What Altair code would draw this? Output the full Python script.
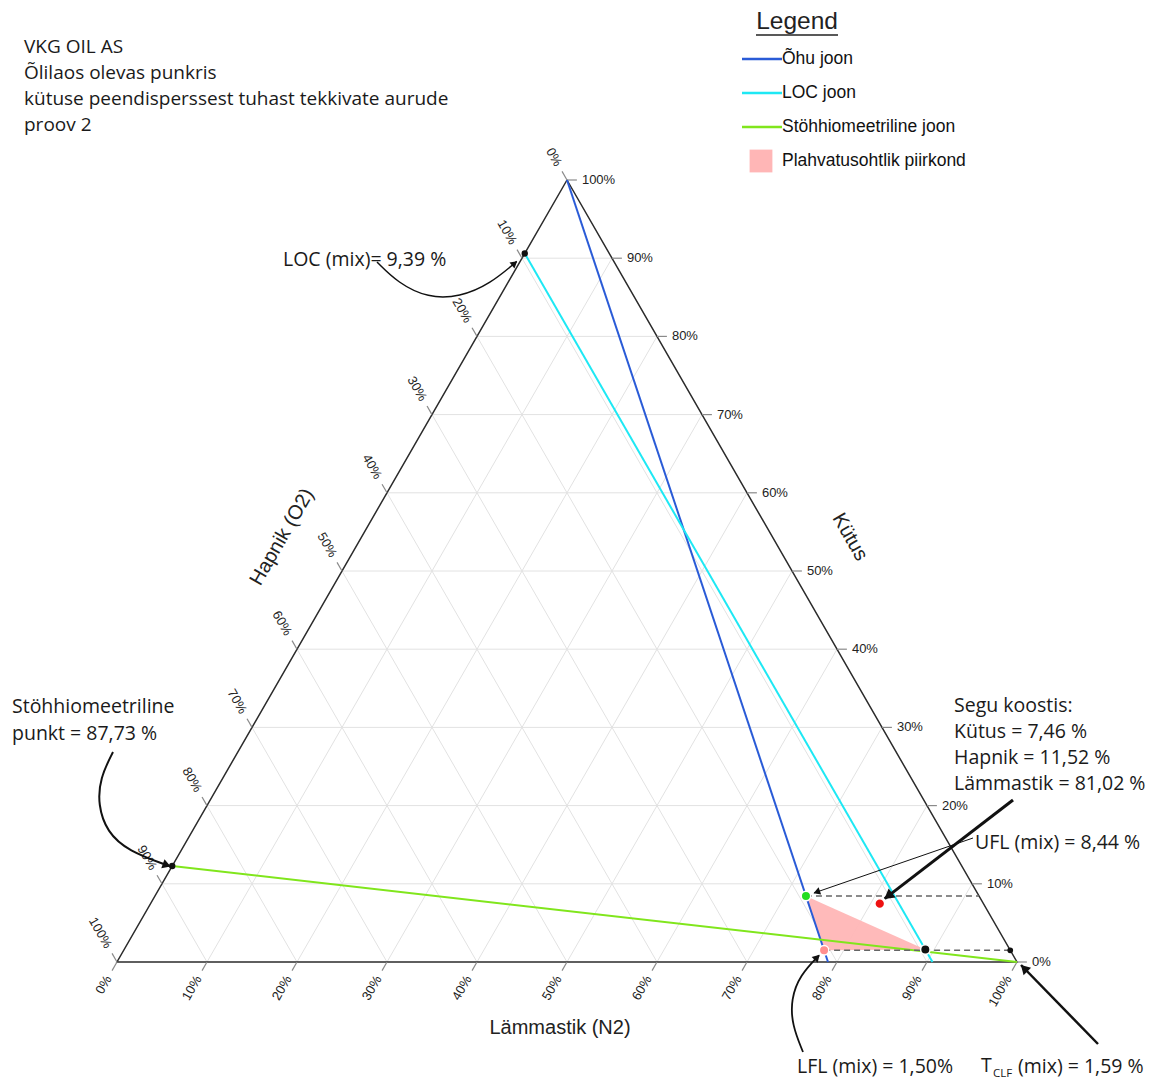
import math
import altair as alt
import pandas as pd

# ---------------- canvas and triangle placement ----------------
W, H = 1149, 1079
X0, Y0 = 117, 962              # pixel position of the 100 % O2 corner
SQ = math.sqrt(3) / 2
SX = 9.0                       # pixels per percent along the base
SY = 782 / (100 * SQ)          # pixels per unit of triangle height

# ---------------- data (percent) ----------------
grid_steps = [0, 10, 20, 30, 40, 50, 60, 70, 80, 90, 100]
air_o2 = 21.0                  # O2 share of air
loc_o2 = 9.39                  # limiting oxygen concentration
stoich_o2 = 87.73              # stoichiometric point on the O2 axis
ufl_fuel = 8.44
lfl_fuel = 1.50
tclf_fuel = 1.59
mix_fuel = 7.46
mix_o2 = 11.52
mix_n2 = 81.02

legend_labels = ["Õhu joon", "LOC joon", "Stöhhiomeetriline joon", "Plahvatusohtlik piirkond"]
legend_colors = ["#2a5bd7", "#1ee8f4", "#80e61c", "#ffb6b6"]
AIR_C, LOC_C, STO_C, ZONE_C = legend_colors

title_lines = ["VKG OIL AS", "Õlilaos olevas punkris",
               "kütuse peendisperssest tuhast tekkivate aurude", "proov 2"]


def fmt(x, sep=" "):
    return f"{x:.2f}".replace(".", ",") + sep + "%"


def uv(f, o, n):
    """ternary (fuel, O2, N2) -> triangle cartesian units"""
    return n + f / 2.0, f * SQ


def to_px(f, o, n):
    u, v = uv(f, o, n)
    return X0 + SX * u, Y0 - SY * v


xs = alt.Scale(domain=[-X0 / SX, (W - X0) / SX], nice=False, zero=False)
ys = alt.Scale(domain=[(Y0 - H) / SY, Y0 / SY], nice=False, zero=False)


def xy():
    return dict(x=alt.X("u:Q", scale=xs, axis=None), y=alt.Y("v:Q", scale=ys, axis=None))


def pxy():
    return dict(x=alt.X("px:Q", scale=None, axis=None), y=alt.Y("py:Q", scale=None, axis=None))


def segments(pairs):
    rows = []
    for i, pts in enumerate(pairs):
        for k, p in enumerate(pts):
            u, v = uv(*p)
            rows.append({"id": i, "k": k, "u": u, "v": v})
    return pd.DataFrame(rows)


# ---------------- grid ----------------
grid_pairs = []
for s in grid_steps[1:-1]:
    grid_pairs.append([(s, 100 - s, 0), (s, 0, 100 - s)])      # constant fuel
    grid_pairs.append([(100 - s, s, 0), (0, s, 100 - s)])      # constant O2
    grid_pairs.append([(100 - s, 0, s), (0, 100 - s, s)])      # constant N2
grid = alt.Chart(segments(grid_pairs)).mark_line(color="#e2e2e2", strokeWidth=1).encode(
    detail="id:N", order="k:Q", **xy())

border = alt.Chart(segments([[(100, 0, 0), (0, 100, 0), (0, 0, 100), (100, 0, 0)]])).mark_line(
    color="#2b2b2b", strokeWidth=1.5).encode(detail="id:N", order="k:Q", **xy())

# ---------------- axis ticks and labels ----------------
D = 1.1
tick_pairs, lab_rows = [], []
for s, lab in zip(grid_steps, [f"{g}%" for g in grid_steps]):
    # fuel on the right edge
    tick_pairs.append([(s, 0, 100 - s), (s, -D, 100 - s + D)])
    u, v = uv(s, -D, 100 - s + D)
    lab_rows.append({"axis": "fuel", "u": u, "v": v, "label": lab})
    # O2 on the left edge
    tick_pairs.append([(100 - s, s, 0), (100 - s + D, s, -D)])
    u, v = uv(100 - s + D, s, -D)
    lab_rows.append({"axis": "o2", "u": u, "v": v, "label": lab})
    # N2 on the base
    tick_pairs.append([(0, 100 - s, s), (-D, 100 - s + D, s)])
    u, v = uv(-D, 100 - s + D, s)
    lab_rows.append({"axis": "n2", "u": u, "v": v, "label": lab})
ticks = alt.Chart(segments(tick_pairs)).mark_line(color="#8a8a8a", strokeWidth=1.2).encode(
    detail="id:N", order="k:Q", **xy())
labs = pd.DataFrame(lab_rows)
lab_font = dict(font="Liberation Sans", fontSize=13, color="#222", baseline="middle")
fuel_labs = alt.Chart(labs[labs.axis == "fuel"]).mark_text(align="left", dx=5, **lab_font).encode(
    text="label:N", **xy())
o2_labs = alt.Chart(labs[labs.axis == "o2"]).mark_text(align="right", angle=60, dx=-7, **lab_font).encode(
    text="label:N", **xy())
n2_labs = alt.Chart(labs[labs.axis == "n2"]).mark_text(align="right", angle=300, dx=-7, **lab_font).encode(
    text="label:N", **xy())

# ---------------- characteristic lines ----------------
air = alt.Chart(segments([[(100, 0, 0), (0, air_o2, 100 - air_o2)]])).mark_line(
    color=AIR_C, strokeWidth=2).encode(order="k:Q", **xy())
loc = alt.Chart(segments([[(100 - loc_o2, loc_o2, 0), (0, loc_o2, 100 - loc_o2)]])).mark_line(
    color=LOC_C, strokeWidth=2).encode(order="k:Q", **xy())
sto = alt.Chart(segments([[(100 - stoich_o2, stoich_o2, 0), (0, 0, 100)]])).mark_line(
    color=STO_C, strokeWidth=2).encode(order="k:Q", **xy())


def on_air(f):
    rest = 100 - f
    return (f, rest * air_o2 / 100, rest * (100 - air_o2) / 100)


ufl_pt = on_air(ufl_fuel)
lfl_pt = on_air(lfl_fuel)
tclf_pt = (tclf_fuel, loc_o2, 100 - tclf_fuel - loc_o2)
loc_pt = (100 - loc_o2, loc_o2, 0)
sto_pt = (100 - stoich_o2, stoich_o2, 0)
mix_pt = (mix_fuel, mix_o2, mix_n2)

# explosive region: triangle UFL - LFL - T_CLF
(u1, v1), (u2, v2), (u3, v3) = uv(*ufl_pt), uv(*lfl_pt), uv(*tclf_pt)
top2 = v1 + (v3 - v1) * (u2 - u1) / (u3 - u1)
zone_df = pd.DataFrame({"u": [u1, u2, u3], "v": [v1, top2, v3], "v2": [v1, v2, v3]})
zone = alt.Chart(zone_df).mark_area(color=ZONE_C, opacity=0.95).encode(
    y2=alt.Y2("v2:Q"), **xy())

dashed = alt.Chart(segments([[ufl_pt, (ufl_fuel, 0, 100 - ufl_fuel)],
                             [lfl_pt, (lfl_fuel, 0, 100 - lfl_fuel)]])).mark_line(
    color="#666", strokeWidth=1.6, strokeDash=[6, 4]).encode(detail="id:N", order="k:Q", **xy())


def pts_df(pts, colors, sizes, strokes):
    rows = []
    for p, c, s, st in zip(pts, colors, sizes, strokes):
        u, v = uv(*p)
        rows.append({"u": u, "v": v, "c": c, "s": s, "st": st})
    return pd.DataFrame(rows)


points = alt.Chart(pts_df(
    [loc_pt, sto_pt, (lfl_fuel, 0, 100 - lfl_fuel), ufl_pt, lfl_pt, tclf_pt, mix_pt],
    ["#111", "#111", "#111", "#22dd22", "#ff8f8f", "#111", "#ee1111"],
    [24, 24, 18, 90, 90, 90, 95],
    ["#111", "#111", "#111", "white", "white", "white", "white"],
)).mark_point(filled=True, opacity=1, strokeWidth=1.5).encode(
    color=alt.Color("c:N", scale=None), stroke=alt.Stroke("st:N", scale=None),
    size=alt.Size("s:Q", scale=None), **xy())

# ---------------- annotation arrows (pixel space) ----------------
def tip(p, ox, oy):
    x, y = to_px(*p)
    return (x + ox, y + oy)


arrows = [
    # (path, stroke width, head size)
    ([(377, 262), (398, 283), (428, 298), (460, 297), (490, 284), tip(loc_pt, -8, 8)], 1.5, 60),
    ([(113, 752), (100, 778), (98, 805), (107, 832), (128, 851), tip(sto_pt, -3, 0)], 2.0, 90),
    ([(973, 838), tip(ufl_pt, 8, -3)], 1.0, 60),
    ([(1013, 800), tip(mix_pt, 5, -5)], 3.0, 130),
    ([(803, 1052), (792, 1025), (791, 999), (800, 975), tip(lfl_pt, -5, 5)], 1.8, 70),
    ([(1098, 1044), tip((0, 0, 100), 4, 3)], 2.5, 110),
]
arrow_rows, head_rows = [], []
for i, (path, w, hs) in enumerate(arrows):
    for k, (x, y) in enumerate(path):
        arrow_rows.append({"id": i, "k": k, "px": x, "py": y, "w": w})
    (xa, ya), (xb, yb) = path[-2], path[-1]
    ang = math.degrees(math.atan2(xb - xa, -(yb - ya))) % 360
    L = math.hypot(xb - xa, yb - ya)
    back = 4 if hs < 100 else 6
    head_rows.append({"px": xb - (xb - xa) / L * back, "py": yb - (yb - ya) / L * back,
                      "ang": ang, "hs": hs})
arrow_lines = alt.Chart(pd.DataFrame(arrow_rows)).mark_line(
    color="#111", interpolate="basis").encode(
    detail="id:N", order="k:Q", strokeWidth=alt.StrokeWidth("w:Q", scale=None), **pxy())
arrow_heads = alt.Chart(pd.DataFrame(head_rows)).mark_point(
    shape="triangle", filled=True, color="#111", opacity=1).encode(
    angle=alt.Angle("ang:Q", scale=None), size=alt.Size("hs:Q", scale=None), **pxy())

# ---------------- texts ----------------
def txt(rows, **kw):
    return alt.Chart(pd.DataFrame(rows, columns=["label", "px", "py"])).mark_text(
        baseline="middle", **kw).encode(text="label:N", **pxy())


note_font = dict(font="Open Sans", fontSize=19.5, color="#1a1a1a", align="left")
title_txt = txt([(t, 24, 47 + 26 * i) for i, t in enumerate(title_lines)],
                font="Open Sans", fontSize=19, color="#1a1a1a", align="left")
notes = txt([
    ("LOC (mix)= " + fmt(loc_o2), 283, 260),
    ("Stöhhiomeetriline", 12, 707),
    ("punkt = " + fmt(stoich_o2), 12, 734),
    ("Segu koostis:", 954, 706),
    ("Kütus = " + fmt(mix_fuel), 954, 732),
    ("Hapnik = " + fmt(mix_o2), 954, 758),
    ("Lämmastik = " + fmt(mix_n2), 954, 784),
    ("UFL (mix) = " + fmt(ufl_fuel), 975, 843),
    ("LFL (mix) = " + fmt(lfl_fuel, ""), 797, 1067),
    ("T", 981, 1066),
    ("(mix) = " + fmt(tclf_fuel), 1018, 1067),
], **note_font)
sub = txt([("CLF", 993, 1074)], font="Open Sans", fontSize=11.5, color="#1a1a1a", align="left")

axis_font = dict(font="Liberation Sans", fontSize=20, color="#222", align="center")
ax_n2 = txt([("Lämmastik (N2)", 560, 1028)], **axis_font)
ax_o2 = txt([("Hapnik (O2)", 282, 537)], angle=300, **axis_font)
ax_f = txt([("Kütus", 850, 537)], angle=60, **axis_font)

# ---------------- legend ----------------
leg_df = pd.DataFrame({"label": legend_labels, "c": legend_colors})
leg_df["py"] = [59 + 34 * i for i in range(len(leg_df))]
leg_df["px"] = 782
leg_df["px0"] = 742
leg_title = txt([("Legend", 797, 22)], font="Liberation Sans", fontSize=24.5, color="#222", align="center")
leg_under = alt.Chart(pd.DataFrame({"a": [0]})).mark_rule(color="#222", strokeWidth=1.3).encode(
    x=alt.value(756), x2=alt.value(838), y=alt.value(35))
leg_lines = alt.Chart(leg_df.iloc[:3]).mark_rule(strokeWidth=2.5).encode(
    x=alt.X("px0:Q", scale=None, axis=None), x2="px:Q",
    y=alt.Y("py:Q", scale=None, axis=None), color=alt.Color("c:N", scale=None))
leg_box = alt.Chart(leg_df.iloc[3:]).mark_square(size=520, filled=True, opacity=1).encode(
    x=alt.X("px:Q", scale=None, axis=None), y=alt.Y("py:Q", scale=None, axis=None),
    color=alt.Color("c:N", scale=None), xOffset=alt.value(-21))
leg_text = alt.Chart(leg_df).mark_text(
    font="Liberation Sans", fontSize=17.5, color="#111", align="left", baseline="middle").encode(
    text="label:N", **pxy())

chart = alt.layer(
    grid, zone, border, ticks, fuel_labs, o2_labs, n2_labs,
    air, loc, sto, dashed, points, arrow_lines, arrow_heads,
    title_txt, notes, sub, ax_n2, ax_o2, ax_f,
    leg_title, leg_under, leg_lines, leg_box, leg_text,
).properties(
    width=W, height=H, padding=0, autosize=alt.AutoSizeParams(type="none"), background="white"
).configure_view(strokeWidth=0)

chart.save("out.html", embed_options={"renderer": "svg", "actions": False})
